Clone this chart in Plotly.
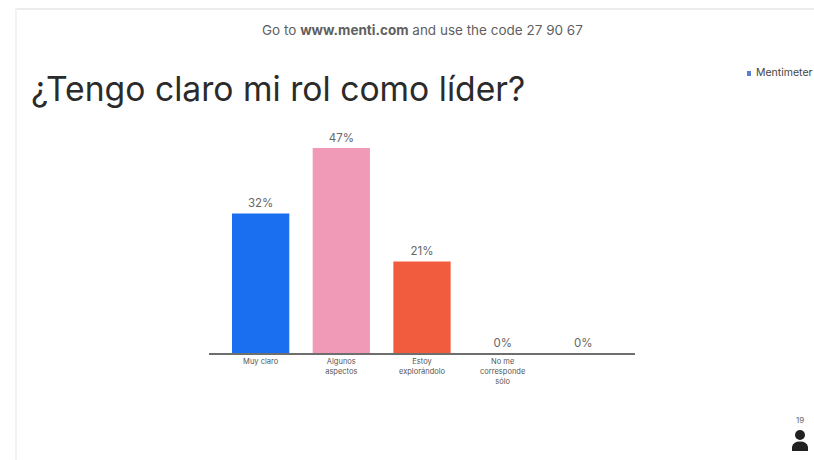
import plotly.graph_objects as go

categories = ["Muy claro", "Algunos<br>aspectos", "Estoy<br>explorándolo", "No me<br>corresponde<br>sólo", " "]
values = [32, 47, 21, 0, 0]
value_labels = ["32%", "47%", "21%", "0%", "0%"]
bar_colors = ["#1a6ff0", "#f09ab8", "#f25c3e", "#cccccc", "#cccccc"]

W, H = 814, 460
FONT = "Inter"
def px(x): return x / W
def py(y): return 1 - y / H

fig = go.Figure(go.Bar(
    x=categories, y=values, marker=dict(color=bar_colors, line_width=0), width=0.71,
    text=value_labels, textposition="outside", cliponaxis=False,
    textfont=dict(family=FONT, size=11.5, color="#666666"), hoverinfo="skip",
))

fig.update_layout(
    width=W, height=H, autosize=False, margin=dict(l=0, r=0, t=0, b=0),
    paper_bgcolor="white", plot_bgcolor="white", showlegend=False,
    font=dict(family=FONT),
    xaxis=dict(domain=[px(209), px(635)], range=[-0.64, 4.64], type="category",
               showgrid=False, showline=True, linecolor="#6e6e6e", linewidth=2,
               ticks="", tickangle=0, tickfont=dict(family=FONT, size=7.5, color="#555555")),
    yaxis=dict(domain=[py(353), py(100)], range=[0, 58.0], visible=False),
    shapes=[
        dict(type="rect", xref="paper", yref="paper", x0=px(15), x1=1, y0=py(10), y1=py(8),
             fillcolor="#ececec", line_width=0, layer="below"),
        dict(type="rect", xref="paper", yref="paper", x0=px(15), x1=px(17), y0=0, y1=py(8),
             fillcolor="#f2f2f2", line_width=0, layer="below"),
        dict(type="circle", xref="paper", yref="paper", x0=px(795), x1=px(805), y0=py(440), y1=py(430),
             fillcolor="#222222", line_width=0),
        dict(type="path", xref="paper", yref="paper",
             path=f"M {px(792)} {py(451)} L {px(792)} {py(447)} Q {px(793)} {py(441.5)} {px(800)} {py(441.5)} "
                  f"Q {px(807)} {py(441.5)} {px(808)} {py(447)} L {px(808)} {py(451)} Z",
             fillcolor="#222222", line_width=0),
        dict(type="rect", xref="paper", yref="paper", x0=px(747), x1=px(751), y0=py(76), y1=py(71),
             fillcolor="#5b7fd0", line_width=0),
    ],
    annotations=[
        dict(text="Go to <b>www.menti.com</b> and use the code 27 90 67", x=px(422), y=py(30),
             xref="paper", yref="paper", showarrow=False, xanchor="center", yanchor="middle",
             font=dict(family=FONT, size=13.5, color="#5f5f5f")),
        dict(text="¿Tengo claro mi rol como líder?", x=px(29), y=py(88),
             xref="paper", yref="paper", showarrow=False, xanchor="left", yanchor="middle",
             font=dict(family=FONT, size=33.7, color="#2b2b2b")),
        dict(text="Mentimeter", x=px(754), y=py(73), xref="paper", yref="paper", showarrow=False,
             xanchor="left", yanchor="middle", font=dict(family=FONT, size=10.5, color="#444444")),
        dict(text="19", x=px(800), y=py(420), xref="paper", yref="paper", showarrow=False,
             xanchor="center", yanchor="middle", font=dict(family=FONT, size=8, color="#666666")),
    ],
)
fig.write_html("out.html", config=dict(displayModeBar=False),
               post_script="document.body.style.margin='0';document.documentElement.style.overflow='hidden';")
